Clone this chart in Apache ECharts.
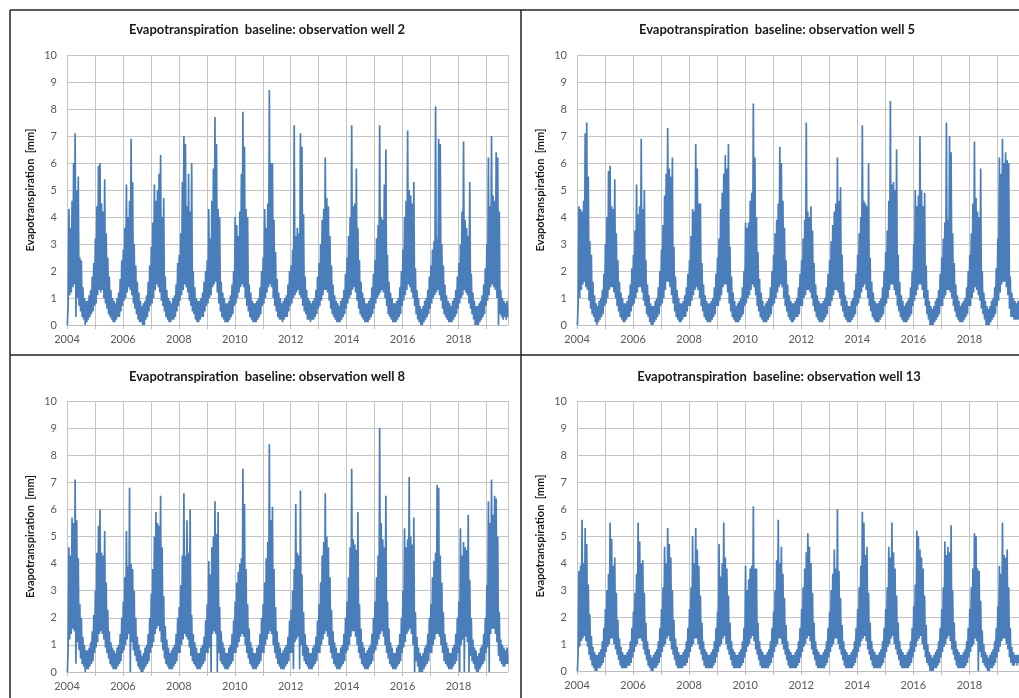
<!DOCTYPE html>
<html>
<head>
<meta charset="utf-8">
<title>Evapotranspiration baseline</title>
<script src="https://cdn.jsdelivr.net/npm/echarts@6/dist/echarts.min.js"></script>
<style>
  html, body { margin: 0; padding: 0; background: #ffffff; }
  #chart { width: 1019px; height: 698px; }
</style>
</head>
<body>
<div id="chart"></div>
<script>
// Dekadal evapotranspiration [mm], 36 values per year (5th, 15th, 25th of each month),
// January 2004 to September 2019.
const START_YEAR = 2004;
const STEPS_PER_YEAR = 36;

const well2 = [
  0.0,0.8,4.3,1.1,3.6,1.2,4.6,1.4,6.0,1.5,7.1,0.3,5.0,1.0,5.5,0.7,2.5,0.5,2.4,0.3,1.4,0.2,1.0,0.0,0.9,0.1,0.9,0.2,1.1,0.3,1.3,0.4,1.8,0.5,2.3,0.7, // 2004
  3.2,0.8,4.4,1.1,5.9,1.3,6.0,1.2,4.5,1.3,4.2,1.0,5.4,0.8,3.4,0.6,2.5,0.4,1.8,0.3,1.3,0.2,1.0,0.1,0.9,0.1,0.8,0.2,1.0,0.3,1.2,0.3,1.7,0.5,2.4,0.7, // 2005
  2.8,0.9,3.6,1.0,5.2,1.2,4.0,1.4,4.6,1.3,6.9,1.1,5.3,0.8,3.0,0.6,2.2,0.4,1.6,0.2,1.2,0.1,0.9,0.1,0.7,0.0,0.8,0.0,0.9,0.2,1.1,0.3,1.6,0.5,2.2,0.7, // 2006
  2.9,0.8,3.8,1.0,5.2,1.3,4.6,1.5,5.0,1.4,5.6,1.2,6.3,0.9,4.0,0.7,4.7,0.5,1.8,0.3,1.3,0.2,1.0,0.1,0.9,0.1,0.8,0.2,1.0,0.2,1.1,0.3,1.5,0.5,2.3,0.7, // 2007
  2.6,0.9,3.4,1.1,5.3,1.3,7.0,1.5,6.7,1.4,4.4,1.2,5.6,0.9,4.2,0.7,6.0,0.5,2.0,0.4,1.4,0.2,1.0,0.1,0.9,0.1,0.9,0.2,1.0,0.3,1.2,0.3,1.6,0.5,2.0,0.7, // 2008
  2.4,0.8,4.3,1.0,3.2,1.1,4.6,1.4,5.8,1.5,7.7,1.6,6.7,1.2,4.3,0.8,4.0,0.5,1.6,0.3,1.2,0.2,1.0,0.1,0.8,0.1,0.8,0.1,0.9,0.2,1.1,0.3,1.5,0.4,2.0,0.7, // 2009
  4.0,0.8,3.7,1.0,3.3,1.2,4.2,1.4,5.6,1.5,7.9,1.4,6.6,1.0,4.3,0.7,4.0,0.5,1.5,0.3,1.2,0.2,0.9,0.1,0.8,0.1,0.8,0.1,0.9,0.2,1.0,0.3,1.4,0.4,2.0,0.7, // 2010
  2.5,0.8,4.3,1.0,3.6,1.2,4.5,1.4,8.7,1.5,6.0,1.4,6.0,1.0,3.9,0.7,2.7,0.5,1.7,0.3,1.2,0.2,1.0,0.2,0.8,0.1,0.9,0.2,1.0,0.3,1.1,0.3,1.5,0.5,2.0,0.7, // 2011
  2.2,0.8,2.8,1.0,7.4,1.1,3.3,1.2,3.6,1.3,3.4,1.1,7.1,1.0,6.6,0.7,4.1,0.5,1.8,0.4,1.3,0.2,1.0,0.2,0.9,0.1,0.8,0.2,0.9,0.2,1.0,0.3,1.3,0.4,1.8,0.6, // 2012
  2.3,0.7,3.0,0.9,3.9,1.1,4.3,1.3,6.2,1.3,4.7,1.2,4.4,0.9,3.3,0.6,2.2,0.4,1.5,0.3,1.1,0.2,0.9,0.1,0.8,0.1,0.7,0.1,0.9,0.2,1.0,0.3,1.3,0.4,1.9,0.6, // 2013
  2.5,0.8,3.3,1.0,4.0,1.1,7.4,1.3,4.4,1.4,4.5,1.2,5.8,0.9,3.6,0.6,2.4,0.4,1.6,0.3,1.2,0.2,1.0,0.1,0.8,0.1,0.8,0.1,0.9,0.2,1.0,0.3,1.4,0.4,1.9,0.6, // 2014
  2.4,0.8,3.2,1.0,3.7,1.1,7.4,1.2,4.0,1.3,3.9,1.2,5.2,1.0,6.5,0.7,2.6,0.4,1.6,0.3,1.2,0.2,1.0,0.1,0.8,0.1,0.8,0.1,0.9,0.2,1.0,0.3,1.4,0.4,2.0,0.7, // 2015
  2.8,0.9,4.0,1.1,4.6,1.3,7.2,1.5,5.0,1.4,4.8,1.2,4.5,1.0,5.3,0.7,2.1,0.4,1.3,0.2,1.0,0.1,0.7,0.0,0.6,0.0,0.7,0.1,0.9,0.2,1.0,0.3,1.3,0.4,1.8,0.6, // 2016
  2.2,0.8,2.8,1.0,3.1,1.1,8.1,1.2,3.2,1.3,6.9,1.1,6.7,0.9,3.0,0.6,2.2,0.4,1.5,0.3,1.1,0.2,0.9,0.1,0.8,0.1,0.7,0.1,0.9,0.2,1.0,0.3,1.3,0.4,1.8,0.6, // 2017
  2.3,0.8,3.0,1.0,4.2,1.1,6.8,1.3,3.9,1.2,3.6,1.1,3.3,0.8,5.3,0.6,1.9,0.4,1.2,0.2,0.9,0.0,0.7,0.0,0.7,0.0,0.8,0.1,0.9,0.2,1.1,0.3,1.5,0.4,2.1,0.7, // 2018
  3.0,0.9,6.2,1.1,4.4,1.4,7.0,1.5,4.8,1.4,4.6,1.3,6.4,1.0,6.2,0.0,4.2,0.4,1.3,0.3,1.0,0.2,0.9,0.3,0.8,0.2,0.9,0.3              // 2019
];

const well5 = [
  0.0,0.8,4.4,1.0,4.3,1.3,4.2,1.5,4.6,1.6,7.1,1.4,7.5,1.3,5.5,0.9,3.1,0.6,2.6,0.4,1.6,0.3,1.1,0.1,0.8,0.0,0.7,0.1,0.9,0.2,1.0,0.3,1.3,0.4,1.9,0.7, // 2004
  3.0,0.8,4.0,1.0,5.7,1.3,5.9,1.4,4.4,1.4,4.3,1.2,5.4,1.0,3.4,0.7,2.4,0.5,1.6,0.3,1.2,0.2,1.0,0.1,0.8,0.1,0.8,0.2,0.9,0.3,1.1,0.3,1.5,0.5,2.1,0.7, // 2005
  2.6,0.8,3.5,1.0,5.2,1.2,4.1,1.4,4.4,1.4,6.9,1.2,4.3,0.9,5.0,0.7,2.4,0.4,1.5,0.3,1.1,0.1,0.8,0.0,0.7,0.0,0.7,0.1,0.9,0.2,1.0,0.3,1.4,0.4,2.0,0.7, // 2006
  2.8,0.8,3.7,1.0,4.8,1.3,5.6,1.6,7.3,1.6,5.8,1.4,5.5,1.1,6.2,0.8,2.9,0.5,1.8,0.3,1.3,0.2,1.0,0.1,0.8,0.1,0.8,0.2,0.9,0.3,1.1,0.3,1.4,0.5,1.9,0.7, // 2007
  2.4,0.7,3.3,0.9,4.3,1.1,4.2,1.3,6.7,1.4,5.8,1.3,4.5,1.0,4.5,0.7,2.3,0.5,1.5,0.3,1.1,0.2,0.9,0.1,0.8,0.1,0.8,0.1,0.9,0.2,1.0,0.3,1.4,0.4,1.9,0.7, // 2008
  2.5,0.7,3.2,0.9,4.3,1.1,4.9,1.4,5.6,1.5,6.3,1.5,5.8,1.2,6.7,0.8,2.9,0.5,1.8,0.3,1.2,0.2,0.9,0.1,0.7,0.1,0.8,0.1,0.9,0.2,1.0,0.3,1.4,0.4,2.0,0.7, // 2009
  3.8,0.8,3.6,1.0,3.8,1.1,4.6,1.3,4.9,1.5,8.2,1.4,6.2,1.1,4.0,0.7,2.7,0.5,1.7,0.3,1.2,0.2,0.9,0.1,0.7,0.1,0.8,0.1,0.9,0.2,1.0,0.3,1.4,0.4,2.0,0.7, // 2010
  2.6,0.8,3.4,1.0,3.9,1.2,4.5,1.4,6.6,1.5,6.0,1.4,4.6,1.0,3.6,0.7,2.4,0.5,1.5,0.3,1.1,0.2,0.9,0.1,0.8,0.1,0.8,0.2,0.9,0.3,1.0,0.3,1.4,0.4,1.9,0.7, // 2011
  2.4,0.7,3.2,1.0,3.9,1.1,7.5,1.3,4.2,1.3,4.0,1.2,4.4,1.0,3.5,0.7,2.3,0.5,1.5,0.3,1.1,0.2,0.9,0.1,0.8,0.1,0.8,0.1,0.9,0.2,1.0,0.3,1.4,0.4,1.9,0.7, // 2012
  2.4,0.7,3.1,0.9,3.7,1.1,4.2,1.3,4.5,1.3,6.2,1.2,4.6,1.0,5.1,0.7,2.6,0.5,1.6,0.3,1.1,0.2,0.9,0.1,0.7,0.1,0.7,0.1,0.9,0.2,1.0,0.3,1.3,0.4,1.9,0.7, // 2013
  2.6,0.8,3.4,1.0,4.0,1.2,7.4,1.4,4.6,1.5,4.5,1.3,4.4,1.0,6.0,0.7,2.5,0.5,1.6,0.3,1.2,0.2,0.9,0.1,0.8,0.1,0.8,0.1,0.9,0.2,1.0,0.3,1.4,0.4,2.0,0.7, // 2014
  2.7,0.8,3.5,1.0,4.6,1.3,8.3,1.5,5.2,1.5,5.3,1.3,5.0,1.1,6.5,0.7,2.6,0.5,1.6,0.3,1.1,0.2,0.9,0.1,0.7,0.1,0.8,0.1,0.9,0.2,1.0,0.3,1.4,0.4,2.0,0.7, // 2015
  3.0,0.9,5.0,1.1,4.4,1.3,4.8,1.5,7.0,1.5,5.0,1.3,4.4,1.0,4.9,0.7,2.2,0.4,1.3,0.2,0.9,0.0,0.7,0.0,0.6,0.0,0.7,0.1,0.9,0.2,1.0,0.3,1.3,0.4,1.9,0.7, // 2016
  2.5,0.7,3.2,1.0,3.8,1.1,7.5,1.3,3.9,1.3,7.0,1.2,6.4,1.0,3.4,0.7,2.3,0.5,1.5,0.3,1.1,0.2,0.9,0.1,0.7,0.1,0.8,0.1,0.9,0.2,1.0,0.3,1.4,0.4,2.0,0.7, // 2017
  2.6,0.7,3.4,1.0,4.5,1.2,6.8,1.4,4.7,1.3,4.2,1.1,4.0,0.9,5.8,0.6,2.0,0.4,1.2,0.2,0.9,0.0,0.7,0.0,0.6,0.0,0.7,0.1,0.9,0.2,1.0,0.3,1.4,0.4,2.1,0.7, // 2018
  3.2,0.9,6.2,1.2,5.6,1.5,6.9,1.6,6.0,1.6,6.4,1.4,6.1,1.1,6.0,0.6,1.8,0.3,1.2,0.3,1.0,0.2,0.9,0.2,0.8,0.2,0.9,0.2              // 2019
];

const well8 = [
  0.0,0.9,4.6,1.2,4.3,1.4,5.7,1.6,5.5,1.5,7.1,0.3,5.6,1.1,4.2,0.8,2.5,0.5,2.0,0.3,1.3,0.2,1.0,0.0,0.8,0.1,0.8,0.1,0.9,0.2,1.1,0.3,1.5,0.4,2.1,0.7, // 2004
  3.0,0.9,4.4,1.1,5.4,1.4,6.0,1.5,4.4,1.4,4.3,1.2,5.2,0.9,3.3,0.7,2.3,0.5,1.5,0.3,1.1,0.2,0.9,0.1,0.8,0.1,0.7,0.1,0.9,0.2,1.0,0.3,1.4,0.4,2.0,0.7, // 2005
  2.6,0.8,3.5,1.0,5.2,1.2,3.9,1.4,6.8,0.0,4.0,1.1,3.8,0.8,3.0,0.6,2.0,0.4,1.3,0.2,1.0,0.1,0.8,0.0,0.6,0.0,0.7,0.1,0.9,0.2,1.0,0.3,1.4,0.4,2.0,0.7, // 2006
  2.9,0.9,3.8,1.1,5.0,1.4,5.9,1.6,5.5,1.7,5.4,1.5,6.5,1.1,4.6,0.8,2.8,0.5,1.7,0.3,1.2,0.2,0.9,0.1,0.7,0.1,0.8,0.1,0.9,0.2,1.0,0.3,1.4,0.4,2.0,0.7, // 2007
  2.4,0.7,3.2,1.0,4.3,1.2,6.6,1.4,4.3,1.3,5.6,1.2,4.4,0.9,6.0,0.6,2.1,0.4,1.4,0.3,1.1,0.2,0.9,0.1,0.7,0.1,0.7,0.1,0.9,0.2,1.0,0.3,1.3,0.4,1.9,0.7, // 2008
  2.5,0.7,4.1,0.9,3.6,0.0,4.6,1.4,5.0,1.5,6.3,1.4,5.1,0.0,5.9,0.7,2.4,0.4,1.5,0.3,1.1,0.2,0.9,0.1,0.7,0.1,0.7,0.1,0.9,0.2,1.0,0.3,1.4,0.4,1.9,0.7, // 2009
  2.6,0.7,3.3,0.9,3.7,1.1,4.0,1.3,4.2,1.4,7.5,1.3,6.2,1.0,3.8,0.7,2.5,0.5,1.6,0.3,1.1,0.2,0.9,0.1,0.7,0.1,0.7,0.1,0.9,0.2,1.0,0.3,1.4,0.4,2.0,0.7, // 2010
  2.5,0.7,3.3,1.0,4.2,1.2,4.8,1.4,8.4,1.5,5.6,1.4,6.1,1.0,3.8,0.7,2.4,0.5,1.5,0.3,1.1,0.2,0.9,0.1,0.7,0.1,0.8,0.1,0.9,0.2,1.0,0.3,1.3,0.4,1.9,0.7, // 2011
  2.3,0.7,3.0,0.1,3.8,1.1,6.2,1.2,4.4,1.3,4.3,0.1,6.7,1.0,3.6,0.6,2.2,0.4,1.4,0.3,1.0,0.2,0.9,0.1,0.7,0.1,0.7,0.1,0.9,0.2,1.0,0.3,1.3,0.4,1.9,0.7, // 2012
  2.5,0.7,3.3,1.0,4.3,1.2,4.8,1.4,6.6,1.5,5.0,1.3,4.6,1.0,3.5,0.7,2.3,0.5,1.5,0.3,1.1,0.2,0.9,0.1,0.7,0.1,0.7,0.1,0.9,0.2,1.0,0.3,1.4,0.4,2.0,0.7, // 2013
  2.6,0.8,3.5,1.0,4.6,1.3,7.5,1.5,4.9,1.5,4.7,1.3,4.5,1.0,5.9,0.7,2.5,0.5,1.6,0.3,1.1,0.2,0.9,0.1,0.7,0.1,0.8,0.1,0.9,0.2,1.0,0.3,1.4,0.4,2.0,0.7, // 2014
  2.6,0.8,3.5,1.0,4.3,1.2,9.0,1.4,5.5,1.5,4.9,1.3,4.6,1.0,6.5,0.7,2.6,0.5,1.6,0.3,1.1,0.2,0.9,0.1,0.7,0.1,0.7,0.1,0.9,0.2,1.0,0.3,1.4,0.4,2.0,0.7, // 2015
  3.0,0.9,5.3,1.1,4.6,1.4,4.9,1.5,7.2,1.6,5.0,1.4,4.7,1.0,5.7,0.0,2.2,0.4,1.3,0.2,0.9,0.0,0.7,0.0,0.6,0.0,0.7,0.1,0.9,0.2,1.0,0.3,1.4,0.4,2.0,0.7, // 2016
  2.5,0.7,3.5,1.0,4.1,1.2,4.4,1.4,6.9,1.4,6.8,1.3,4.3,1.0,3.3,0.7,2.2,0.4,1.4,0.3,1.1,0.2,0.9,0.1,0.7,0.1,0.7,0.1,0.9,0.2,1.0,0.3,1.4,0.4,2.0,0.7, // 2017
  2.6,0.0,5.3,1.0,4.3,1.2,4.8,0.0,4.6,1.3,4.5,1.1,5.8,0.0,3.4,0.6,2.0,0.4,1.2,0.3,0.9,0.1,0.8,0.0,0.6,0.0,0.7,0.1,0.9,0.2,1.0,0.3,1.4,0.4,2.0,0.7, // 2018
  3.2,0.9,6.3,0.0,5.5,1.4,7.1,1.6,5.8,1.6,6.5,1.4,6.4,1.1,5.0,0.6,2.2,0.4,1.2,0.3,1.0,0.2,0.9,0.2,0.8,0.3,0.9,0.3              // 2019
];

const well13 = [
  0.0,0.7,3.7,0.9,3.9,1.1,5.6,1.2,4.0,1.3,5.3,1.1,4.7,0.9,3.2,0.6,2.1,0.4,1.3,0.2,0.9,0.1,0.7,0.0,0.6,0.0,0.6,0.1,0.7,0.1,0.8,0.2,1.1,0.3,1.6,0.5, // 2004
  2.3,0.7,3.0,0.9,3.6,1.0,5.5,1.2,4.9,1.2,3.9,1.0,4.2,0.8,2.9,0.6,1.9,0.4,1.2,0.2,0.9,0.1,0.7,0.1,0.6,0.1,0.6,0.1,0.7,0.2,0.8,0.2,1.1,0.3,1.6,0.5, // 2005
  2.2,0.7,2.9,0.9,3.6,1.0,5.5,1.2,4.8,1.2,4.0,1.1,4.1,0.8,2.9,0.6,1.8,0.4,1.1,0.2,0.8,0.1,0.6,0.0,0.5,0.0,0.6,0.1,0.7,0.1,0.8,0.2,1.1,0.3,1.6,0.5, // 2006
  2.3,0.7,3.1,0.9,4.6,1.0,4.0,1.2,5.3,1.3,4.7,1.1,4.2,0.8,3.0,0.6,1.9,0.4,1.2,0.2,0.9,0.1,0.7,0.1,0.6,0.1,0.6,0.1,0.7,0.2,0.8,0.2,1.1,0.3,1.6,0.5, // 2007
  2.3,0.7,3.1,0.9,5.0,1.0,4.0,1.2,5.3,1.2,4.5,1.0,3.9,0.8,2.8,0.6,1.8,0.4,1.1,0.2,0.8,0.1,0.7,0.1,0.6,0.1,0.6,0.1,0.7,0.1,0.8,0.2,1.1,0.3,1.6,0.5, // 2008
  2.2,0.7,4.7,0.9,3.5,1.0,4.0,1.2,5.5,1.3,4.2,1.0,3.8,0.8,2.8,0.6,1.8,0.4,1.1,0.2,0.8,0.1,0.7,0.1,0.6,0.1,0.6,0.1,0.7,0.1,0.8,0.2,1.1,0.3,1.6,0.5, // 2009
  3.9,0.7,3.0,0.9,3.4,1.0,3.8,1.2,3.9,1.3,6.1,1.1,3.8,0.8,3.8,0.6,1.8,0.4,1.1,0.2,0.8,0.1,0.7,0.1,0.6,0.1,0.6,0.1,0.7,0.1,0.8,0.2,1.1,0.3,1.6,0.5, // 2010
  2.2,0.7,3.0,0.9,4.1,1.0,5.6,1.2,4.0,1.2,4.6,1.0,3.6,0.8,2.7,0.6,1.7,0.4,1.1,0.2,0.8,0.1,0.7,0.1,0.6,0.1,0.6,0.1,0.7,0.1,0.8,0.2,1.1,0.3,1.6,0.5, // 2011
  2.3,0.7,3.1,0.9,3.8,1.0,4.4,1.2,5.1,1.3,4.6,1.1,4.0,0.8,2.9,0.6,1.8,0.4,1.1,0.2,0.8,0.1,0.7,0.1,0.6,0.1,0.6,0.1,0.7,0.1,0.8,0.2,1.1,0.3,1.6,0.5, // 2012
  2.2,0.7,3.0,0.9,3.6,1.0,4.5,1.2,3.8,1.2,6.0,1.0,3.7,0.8,2.7,0.6,1.7,0.4,1.1,0.2,0.8,0.1,0.7,0.1,0.6,0.1,0.6,0.1,0.7,0.1,0.8,0.2,1.1,0.3,1.6,0.5, // 2013
  2.3,0.7,3.1,0.9,3.9,1.1,5.9,1.2,5.5,1.3,4.3,1.1,4.6,0.8,2.9,0.6,1.8,0.4,1.1,0.2,0.8,0.1,0.7,0.1,0.6,0.1,0.6,0.1,0.7,0.1,0.8,0.2,1.1,0.3,1.6,0.5, // 2014
  2.3,0.7,3.1,0.9,4.6,1.0,4.2,1.2,5.5,1.3,4.4,1.0,3.8,0.8,2.8,0.6,1.8,0.4,1.1,0.2,0.8,0.1,0.7,0.1,0.6,0.1,0.6,0.1,0.7,0.1,0.8,0.2,1.1,0.3,1.6,0.5, // 2015
  2.4,0.7,3.2,0.9,5.2,1.1,5.0,1.2,4.5,1.3,4.2,1.0,3.8,0.8,2.8,0.5,1.7,0.3,1.0,0.2,0.7,0.0,0.6,0.0,0.5,0.0,0.6,0.1,0.7,0.1,0.8,0.2,1.1,0.3,1.6,0.5, // 2016
  2.3,0.7,3.1,0.9,4.8,1.0,4.3,1.2,4.6,1.3,4.4,1.1,5.4,0.8,3.0,0.6,1.8,0.4,1.1,0.2,0.8,0.1,0.7,0.1,0.6,0.1,0.6,0.1,0.7,0.1,0.8,0.2,1.1,0.3,1.6,0.5, // 2017
  2.3,0.7,3.1,0.9,3.8,1.0,5.1,1.2,5.0,1.1,3.8,0.0,3.7,0.7,2.6,0.5,1.5,0.3,1.0,0.2,0.7,0.1,0.6,0.0,0.5,0.0,0.6,0.1,0.7,0.1,0.8,0.2,1.1,0.3,1.6,0.5, // 2018
  2.4,0.7,3.9,0.9,3.6,1.1,5.5,1.2,4.3,1.2,4.2,1.0,4.5,0.8,3.1,0.5,1.6,0.3,0.9,0.2,0.7,0.2,0.6,0.3,0.6,0.2,0.6,0.3              // 2019
];

const panelTitles = [
  'Evapotranspiration  baseline: observation well 2',
  'Evapotranspiration  baseline: observation well 5',
  'Evapotranspiration  baseline: observation well 8',
  'Evapotranspiration  baseline: observation well 13'
];
const yAxisTitle = 'Evapotranspiration  [mm]';
const xMin = 2004, xMax = 2019.77;

const seriesValues = [well2, well5, well8, well13];

// Panel layout: plot rectangles and title anchors
const panels = [
  { left: 67,  top: 55,  width: 441, height: 270, titleX: 267, titleY: 30 },
  { left: 577, top: 55,  width: 442, height: 270, titleX: 777, titleY: 30 },
  { left: 67,  top: 401, width: 441, height: 271, titleX: 267, titleY: 377 },
  { left: 577, top: 401, width: 442, height: 270, titleX: 779, titleY: 377 }
];

const FONT = 'Lato, "Noto Sans", sans-serif';
const LINE_BLUE = '#4a7ebb';
const GRID_GRAY = '#c4c4c4';
const LABEL_GRAY = '#595959';

function toPoints(values) {
  return values.map((v, i) => [START_YEAR + (i + 0.5) / STEPS_PER_YEAR, v]);
}

const chart = echarts.init(document.getElementById('chart'), null, { renderer: 'canvas' });

const option = {
  animation: false,
  backgroundColor: '#ffffff',
  grid: panels.map(p => ({ left: p.left, top: p.top, width: p.width, height: p.height, containLabel: false })),
  xAxis: panels.map((p, i) => ({
    type: 'value',
    gridIndex: i,
    min: xMin,
    max: xMax,
    interval: 1,
    axisLine: { show: true, lineStyle: { color: '#bdbdbd', width: 1 } },
    axisTick: { show: true, length: 4, lineStyle: { color: '#bdbdbd' } },
    axisLabel: {
      color: LABEL_GRAY, fontFamily: FONT, fontSize: 11, margin: 9,
      showMaxLabel: false,
      formatter: v => (Math.round(v) % 2 === 0 ? String(Math.round(v)) : '')
    },
    splitLine: { show: true, lineStyle: { color: GRID_GRAY, width: 1 } }
  })),
  yAxis: panels.map((p, i) => ({
    type: 'value',
    gridIndex: i,
    min: 0,
    max: 10,
    interval: 1,
    name: yAxisTitle,
    nameLocation: 'middle',
    nameGap: 31,
    nameTextStyle: { color: '#1a1a1a', fontFamily: FONT, fontSize: 11, fontWeight: 'bold' },
    axisLine: { show: false },
    axisTick: { show: false },
    axisLabel: { color: LABEL_GRAY, fontFamily: FONT, fontSize: 11, margin: 10 },
    splitLine: { show: true, lineStyle: { color: GRID_GRAY, width: 1 } }
  })),
  series: seriesValues.map((vals, i) => ({
    type: 'line',
    xAxisIndex: i,
    yAxisIndex: i,
    data: toPoints(vals),
    showSymbol: false,
    symbol: 'none',
    sampling: null,
    lineStyle: { color: LINE_BLUE, width: 1.7, join: 'miter', miterLimit: 2 },
    emphasis: { disabled: true },
    silent: true
  })),
  graphic: [
    // panel frame lines
    { type: 'line', shape: { x1: 10, y1: 10, x2: 1019, y2: 10 }, style: { stroke: '#222', lineWidth: 1.5 } },
    { type: 'line', shape: { x1: 10, y1: 10, x2: 10, y2: 698 }, style: { stroke: '#222', lineWidth: 1.5 } },
    { type: 'line', shape: { x1: 521, y1: 10, x2: 521, y2: 698 }, style: { stroke: '#222', lineWidth: 1.5 } },
    { type: 'line', shape: { x1: 10, y1: 355, x2: 1019, y2: 355 }, style: { stroke: '#222', lineWidth: 1.5 } }
  ].concat(panels.map((p, i) => ({
    type: 'text',
    x: p.titleX,
    y: p.titleY,
    style: {
      text: panelTitles[i],
      fill: '#1a1a1a',
      font: 'bold 13px ' + FONT,
      textAlign: 'center',
      textVerticalAlign: 'middle'
    }
  })))
};

chart.setOption(option);
</script>
</body>
</html>
